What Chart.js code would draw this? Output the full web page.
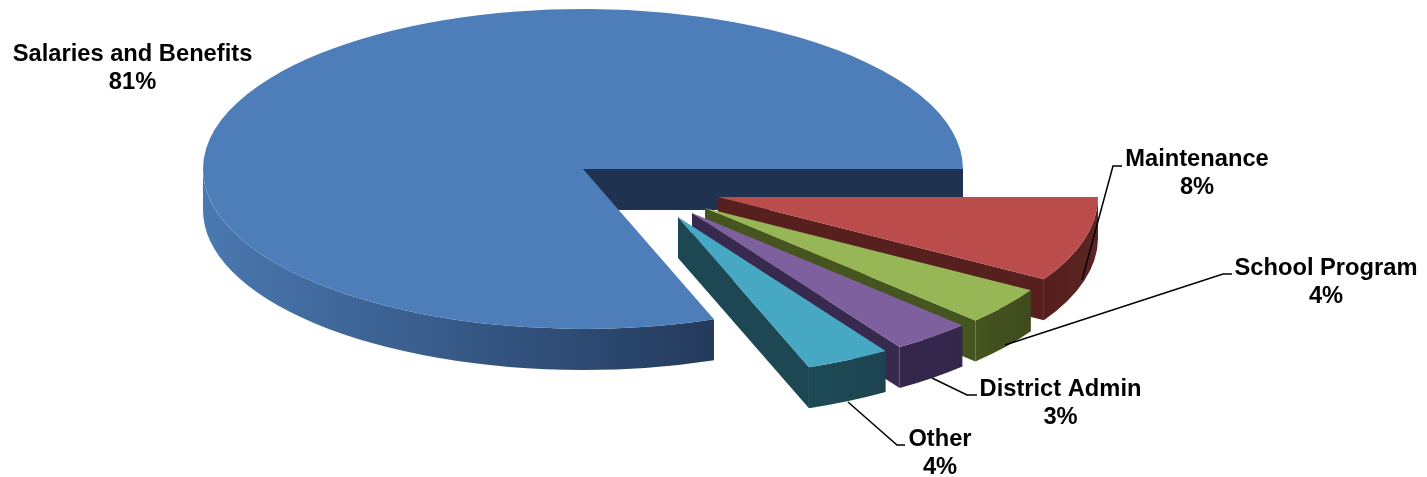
<!DOCTYPE html>
<html>
<head>
<meta charset="utf-8">
<title>Budget pie</title>
<style>
  html, body { margin: 0; padding: 0; background: #fff; }
  canvas { display: block; }
</style>
<script src="https://cdn.jsdelivr.net/npm/chart.js@4/dist/chart.umd.min.js"></script>
</head>
<body>
<canvas id="myChartPie" width="1427" height="477"></canvas>
<script>
//DATA
const categories = ['Salaries and Benefits', 'Maintenance', 'School Program', 'District Admin', 'Other'];
const shares = [80.6, 8.6, 3.8, 3.4, 3.6];
const shareLabels = ['81%', '8%', '4%', '3%', '4%'];

//STYLE
const topColors = ['#4e7eb9', '#ba4d4b', '#97b655', '#7e609e', '#46a8c2'];
const wallLeft = ['#4a78b1', '#541f1e', '#46541f', '#35274a', '#1e4a56'];
const wallRight = ['#233a5c', '#5c2523', '#3f4b1d', '#33264a', '#1c4450'];
const faceColors = ['#1f3350', '#571f1e', '#46541f', '#38294f', '#1d4853'];

//how far each slice is pulled out of the pie
const explode = [[0, 0], [135, 28], [122, 39], [109, 44], [95, 48]];
const squash = 160 / 380;
const depth = 41;

//label placement: centre x, first line y, leader line points
const labelSpots = [
  {x: 132.5, y: 54, leader: null},
  {x: 1197, y: 159, leader: [[1082, 280], [1113, 166], [1122, 166]]},
  {x: 1326, y: 268, leader: [[1005, 345], [1223, 274], [1232, 274]]},
  {x: 1060.5, y: 389, leader: [[932, 378], [967, 395], [977, 395]]},
  {x: 940, y: 439, leader: [[848, 402], [897, 445], [905, 445]]}
];
const labelFont = 'bold 23.7px "Liberation Sans"';
const lineGap = 28;

function drawSlice (ctx, arc, i) {
  const {x, y, startAngle: a, endAngle: b, outerRadius: r} = arc;
  const ry = r * squash;

  ctx.save();
  ctx.translate(explode[i][0], explode[i][1]);

  //CUT FACES
  const faces = [];
  if (Math.sin(a - Math.PI / 2) > 0) faces.push(a);
  if (Math.cos(b) > 0) faces.push(b);
  ctx.fillStyle = faceColors[i];
  faces.forEach(angle => {
    const rimX = x + Math.cos(angle) * r;
    const rimY = y + Math.sin(angle) * ry;
    ctx.beginPath();
    ctx.moveTo(x, y);
    ctx.lineTo(rimX, rimY);
    ctx.lineTo(rimX, rimY + depth);
    ctx.lineTo(x, y + depth);
    ctx.closePath();
    ctx.fill();
  });

  //OUTER WALL, only the front half of the rim shows
  [0, 2 * Math.PI].forEach(turn => {
    const from = Math.max(a, turn);
    const to = Math.min(b, turn + Math.PI);
    if (to - from < 0.001) return;
    const left = x + Math.cos(to) * r;
    const right = x + Math.cos(from) * r;
    const grad = ctx.createLinearGradient(left, 0, right, 0);
    grad.addColorStop(0, wallLeft[i]);
    grad.addColorStop(1, wallRight[i]);
    ctx.fillStyle = grad;
    ctx.beginPath();
    ctx.ellipse(x, y, r, ry, 0, from, to, false);
    ctx.ellipse(x, y + depth, r, ry, 0, to, from, true);
    ctx.closePath();
    ctx.fill();
  });

  //TOP
  ctx.translate(x, y);
  ctx.scale(1, squash);
  ctx.translate(-x, -y);
  arc.draw(ctx);
  ctx.restore();
}

const pie3d = {
  id: 'pie3d',
  beforeDatasetsDraw (chart) {
    const ctx = chart.ctx;
    chart.getDatasetMeta(0).data.forEach((arc, i) => drawSlice(ctx, arc, i));
    return false;
  },
  afterDraw (chart) {
    const ctx = chart.ctx;
    ctx.save();
    ctx.textAlign = 'center';
    ctx.textBaseline = 'middle';
    ctx.font = labelFont;
    labelSpots.forEach((spot, i) => {
      if (spot.leader) {
        ctx.strokeStyle = '#000';
        ctx.lineWidth = 1.5;
        ctx.beginPath();
        spot.leader.forEach((p, k) => k ? ctx.lineTo(p[0], p[1]) : ctx.moveTo(p[0], p[1]));
        ctx.stroke();
      }
      ctx.fillStyle = '#000';
      ctx.fillText(categories[i], spot.x, spot.y);
      ctx.fillText(shareLabels[i], spot.x, spot.y + lineGap);
    });
    ctx.restore();
  }
};

//PIE
const total = shares.reduce((sum, v) => sum + v, 0);

const myChartPie = new Chart(document.getElementById('myChartPie'), {
  type: 'pie',
  data: {
    labels: categories,
    datasets: [{
      data: shares,
      backgroundColor: topColors,
      borderWidth: 0,
      radius: 380
    }]
  },
  options: {
    responsive: false,
    animation: false,
    //first slice ends on the right hand side of the pie
    rotation: 90 + (1 - shares[0] / total) * 360,
    layout: {
      padding: {right: 261, bottom: 139}
    },
    plugins: {
      legend: {display: false},
      tooltip: {enabled: false}
    }
  },
  plugins: [pie3d]
});
</script>
</body>
</html>
